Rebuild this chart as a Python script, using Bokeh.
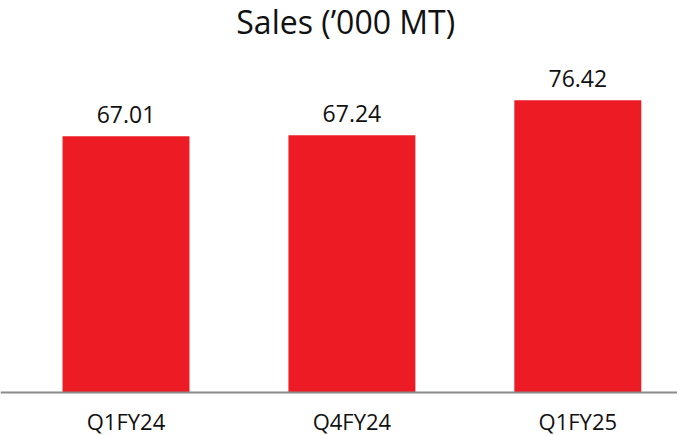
from bokeh.plotting import figure
from bokeh.models import ColumnDataSource, Range1d, Span, Label
from bokeh.core.properties import value
from bokeh.embed import file_html
from bokeh.resources import INLINE

# ---- data ----
categories = ["Q1FY24", "Q4FY24", "Q1FY25"]
sales = [67.01, 67.24, 76.42]
labels = ["67.01", "67.24", "76.42"]
title_text = "Sales (\u2019000  MT)"

# ---- layout constants ----
W, H = 677, 436
PX_PER_UNIT = 3.824         # vertical pixels per '000 MT
BASE_PX = 392               # baseline distance from canvas top
X_PX = 225.9                # pixels per category step
FIRST_CENTER_PX = 125.5     # first bar center from canvas left
TITLE_PX = 21               # title anchor distance from canvas top

x_start = -FIRST_CENTER_PX / X_PX
x_end = x_start + W / X_PX
y_end = BASE_PX / PX_PER_UNIT
y_start = -(H - BASE_PX) / PX_PER_UNIT

xs = list(range(len(categories)))
src = ColumnDataSource(dict(x=xs, top=sales, lab=labels, cat=categories))

p = figure(width=W, height=H, output_backend="svg", toolbar_location=None,
           x_range=Range1d(x_start, x_end), y_range=Range1d(y_start, y_end),
           min_border=0, outline_line_color=None, background_fill_color="white",
           border_fill_color="white")
p.axis.visible = False
p.grid.visible = False

p.vbar(x="x", top="top", bottom=0, width=0.562, source=src,
       fill_color="#ED1C24", line_color=None)

p.add_layout(Span(location=0, dimension="width", line_color="#8a8a8a", line_width=2))

p.text(x="x", y="top", text="lab", source=src, text_align="center",
       text_baseline="alphabetic", y_offset=-22, text_font=value("Open Sans"),
       text_font_size="23px", text_color="#111111")

p.text(x="x", y=0, text="cat", source=src, text_align="center",
       text_baseline="alphabetic", y_offset=28, text_font=value("Open Sans"),
       text_font_size="22px", text_color="#111111")

title_y = (BASE_PX - TITLE_PX) / PX_PER_UNIT
p.add_layout(Label(x=(len(categories) - 1) / 2, y=title_y, x_offset=-2, text=title_text,
                   text_align="center", text_baseline="alphabetic",
                   text_font="Open Sans", text_font_size="32px", text_color="#111111"))

open("out.html", "w").write(file_html(p, INLINE))
